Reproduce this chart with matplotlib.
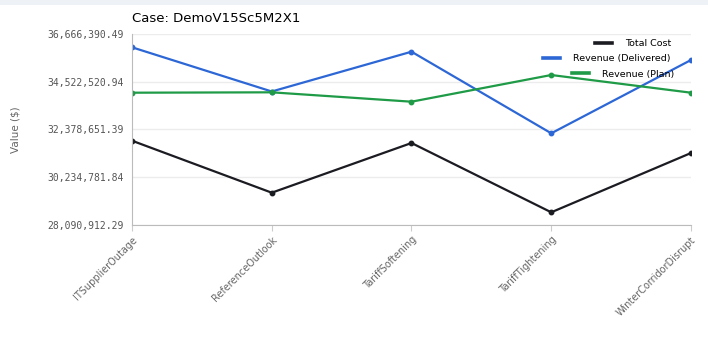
import numpy as np
import matplotlib
matplotlib.use("Agg")
import matplotlib.pyplot as plt
from matplotlib.patches import Rectangle

scenarios = ["ITSupplierOutage", "ReferenceOutlook", "TariffSoftening",
             "TariffTightening", "WinterCorridorDisrupt"]
total_cost = [31875773, 29541077, 31772508, 28661077, 31323528]
rev_delivered = [36069246, 34084755, 35871695, 32208019, 35499042]
rev_plan = [34030877, 34048000, 33626795, 34825572, 34030877]

y_ticks = [28090912.29, 30234781.84, 32378651.39, 34522520.94, 36666390.49]

W, H = 708, 355
fig = plt.figure(figsize=(W/100, H/100), dpi=100)
fig.patches.append(Rectangle((0, 0.985), 1, 0.015, transform=fig.transFigure,
                             facecolor="#eef1f6", edgecolor="none"))
ax = fig.add_axes([132/W, 1-225/H, (691-132)/W, (225-34)/H])

x = np.arange(len(scenarios))
series = [("Total Cost", total_cost, "#1b1b22"),
          ("Revenue (Delivered)", rev_delivered, "#2d67d6"),
          ("Revenue (Plan)", rev_plan, "#1f9a46")]
lines = []
for name, vals, col in series:
    ln, = ax.plot(x, vals, color=col, lw=1.6, marker="o", ms=3.2, label=name)
    lines.append(ln)

ax.set_xlim(0, len(scenarios)-1)
ax.set_ylim(y_ticks[0], y_ticks[-1])
ax.set_yticks(y_ticks)
ax.set_yticklabels([f"{v:,.2f}" for v in y_ticks], family="DejaVu Sans Mono",
                   fontsize=7, color="#555555")
ax.set_xticks(x)
ax.set_xticklabels(scenarios, rotation=45, ha="right", rotation_mode="anchor",
                   fontsize=7, color="#666666")
ax.tick_params(axis="y", length=0, pad=6)
ax.tick_params(axis="x", length=4, color="#cccccc", pad=3)
ax.grid(axis="y", color="#ececec", lw=1)
ax.set_axisbelow(True)
for s in ["top", "right"]:
    ax.spines[s].set_visible(False)
for s in ["left", "bottom"]:
    ax.spines[s].set_color("#bbbbbb")

ax.set_ylabel("Value ($)", fontsize=7.5, color="#666666")
ax.yaxis.set_label_coords(-0.2, 0.5)
fig.text(132/W, 1-18/H, "Case: DemoV15Sc5M2X1", fontsize=9.5, va="center")

# Chart.js-style legend: each entry centred on its own row
legend_pos = [(595, 44), (543, 59), (572, 74)]
for ln, (px, py) in zip(lines, legend_pos):
    leg = fig.legend([ln], [ln.get_label()], loc="center left",
                     bbox_to_anchor=(px/W, 1-py/H), frameon=False, fontsize=6.8,
                     handlelength=1.8, handletextpad=1.35, borderpad=0,
                     borderaxespad=0)
    for h in leg.get_lines():
        h.set_linewidth(2.6)
        h.set_marker("")

fig.savefig("out.png", dpi=100)
